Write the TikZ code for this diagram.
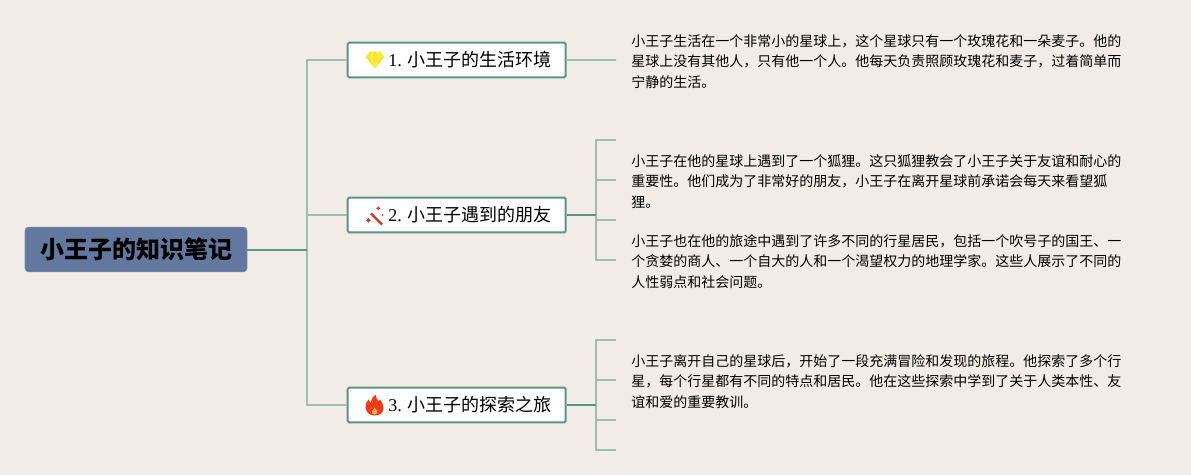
\documentclass[tikz,border=0pt]{standalone}
\usepackage{fontspec}
\usepackage{xcolor}
\setmainfont{Liberation Serif}
\newfontfamily\cjk{Noto Sans CJK SC}
\definecolor{paper}{HTML}{F1ECE7}
\definecolor{rootblue}{HTML}{62789E}
\definecolor{darkline}{HTML}{5E9484}
\definecolor{paleline}{HTML}{9CBFAE}
\definecolor{gemyellow}{HTML}{F6E62E}
\definecolor{gempale}{HTML}{FBF07A}
\definecolor{wandred}{HTML}{C8392B}
\definecolor{flamered}{HTML}{F23A14}
\tikzset{
  rootbox/.style={fill=rootblue,draw=rootblue!80!white,line width=0.4pt,rounded corners=2.5pt,
    minimum width=166.5pt,minimum height=33.5pt,inner sep=0pt,font=\cjk\bfseries\fontsize{18}{18}\selectfont},
  topicbox/.style={fill=white,draw=darkline,line width=1.5pt,rounded corners=1pt,
    minimum width=163.5pt,minimum height=26pt,inner sep=0pt,font=\fontsize{13.5}{13.5}\selectfont},
  notetext/.style={anchor=west,inner xsep=11.25pt,inner ysep=0pt,align=left,
    font=\cjk\fontsize{10.5}{15.4}\selectfont},
  stubend/.style={yshift=1.1pt},
  darkbar/.style={draw=darkline,line width=1.5pt},
  palebar/.style={draw=paleline,line width=1.2pt},
}
\newcommand{\topiclabel}[2]{\hspace*{20pt}\raisebox{-0.8pt}{#1 {\cjk #2}}}
\begin{document}
\begin{tikzpicture}[x=0.75pt,y=-0.75pt]
  % Page
  \fill[paper] (0,0) rectangle (1191,475);
  \useasboundingbox (0,0) rectangle (1191,475);

  % Root and topics
  \node[rootbox] (root) at (136,249.5) {小王子的知识笔记};
  \node[topicbox] (topicA) at (456.7,60) {\topiclabel{1.}{小王子的生活环境}};
  \node[topicbox] (topicB) at (456.7,215) {\topiclabel{2.}{小王子遇到的朋友}};
  \node[topicbox] (topicC) at (456.7,405) {\topiclabel{3.}{小王子的探索之旅}};

  % Notes
  \node[notetext] (noteA) at (616,61.5) {小王子生活在一个非常小的星球上，这个星球只有一个玫瑰花和一朵麦子。他的\\
    星球上没有其他人，只有他一个人。他每天负责照顾玫瑰花和麦子，过着简单而\\宁静的生活。};
  \node[notetext] (noteB) at (616,181.5) {小王子在他的星球上遇到了一个狐狸。这只狐狸教会了小王子关于友谊和耐心的\\
    重要性。他们成为了非常好的朋友，小王子在离开星球前承诺会每天来看望狐\\狸。};
  \node[notetext] (noteC) at (616,261.5) {小王子也在他的旅途中遇到了许多不同的行星居民，包括一个吹号子的国王、一\\
    个贪婪的商人、一个自大的人和一个渴望权力的地理学家。这些人展示了不同的\\人性弱点和社会问题。};
  \node[notetext] (noteD) at (616,381.5) {小王子离开自己的星球后，开始了一段充满冒险和发现的旅程。他探索了多个行\\
    星，每个行星都有不同的特点和居民。他在这些探索中学到了关于人类本性、友\\谊和爱的重要教训。};

  % Icons
  \fill[gemyellow] (370,51.5) -- (380,51.5) -- (384.5,57) -- (375,68.5) -- (365.5,57) -- cycle;
  \draw[gempale,line width=0.5pt] (366.5,57) -- (383.5,57) (371,57) -- (375,66.5) -- (379,57) (372.5,52) -- (371,57) (377.5,52) -- (379,57);
  \draw[wandred,line width=1.7pt] (371,213.5) -- (382,224.5);
  \fill[wandred] (378.3,206.3) -- (379.2,207.6) -- (380.5,208.3) -- (379.2,209) -- (378.3,210.3) -- (377.4,209) -- (376.1,208.3) -- (377.4,207.6) -- cycle;
  \fill[wandred] (368.3,217.8) -- (369.4,219.3) -- (370.8,220.3) -- (369.4,221.3) -- (368.3,222.8) -- (367.2,221.3) -- (365.8,220.3) -- (367.2,219.3) -- cycle;
  \fill[wandred] (382.7,215) circle (1);
  \fill[flamered] (374.5,415.5) .. controls (369,415.5) and (365.5,411.5) .. (365.5,406.5)
    .. controls (365.5,403.5) and (367,401.5) .. (368.5,399.5)
    .. controls (369,401) and (369.5,402) .. (370.5,403)
    .. controls (371,400) and (372.5,397) .. (375.5,394.5)
    .. controls (376,397.5) and (377,399.5) .. (378.5,401.5)
    .. controls (379,401) and (379.5,400.5) .. (380,399.5)
    .. controls (382,402) and (383.5,405) .. (383.5,408.5)
    .. controls (383.5,412.5) and (380,415.5) .. (374.5,415.5) -- cycle;
  \fill[paper!40!orange] (374.5,414.5) .. controls (372.5,414.5) and (371.5,413) .. (372,411.5)
    .. controls (372.5,410) and (374,409) .. (374.5,407.5)
    .. controls (376,409) and (377.5,410.5) .. (377.3,412)
    .. controls (377,413.5) and (376,414.5) .. (374.5,414.5) -- cycle;

  % Junctions and free ends
  \coordinate (rootjoin) at (307,249.5);
  \coordinate (joinB) at (596,215);
  \coordinate (joinC) at (596,405);
  \coordinate (stubA) at (616,140);
  \coordinate (stubB) at (616,220);
  \coordinate (stubC) at (616,340);
  \coordinate (stubD) at (616,420);
  \coordinate (stubE) at (616,450);

  % Pale branches
  \foreach \target in {topicA,topicB,topicC}
    \draw[palebar] (rootjoin) |- (\target.west);
  \draw[palebar] (topicA.east) -- ([stubend]noteA.west);
  \foreach \target in {stubA,stubB}
    \draw[palebar] (joinB) |- (\target);
  \foreach \target in {noteB,noteC}
    \draw[palebar] (joinB) |- ([stubend]\target.west);
  \foreach \target in {stubC,stubD,stubE}
    \draw[palebar] (joinC) |- (\target);
  \draw[palebar] (joinC) |- ([stubend]noteD.west);

  % Dark stems
  \draw[darkbar] (root.east) -- (rootjoin);
  \draw[darkbar] (topicB.east) -- (joinB);
  \draw[darkbar] (topicC.east) -- (joinC);
\end{tikzpicture}
\end{document}
